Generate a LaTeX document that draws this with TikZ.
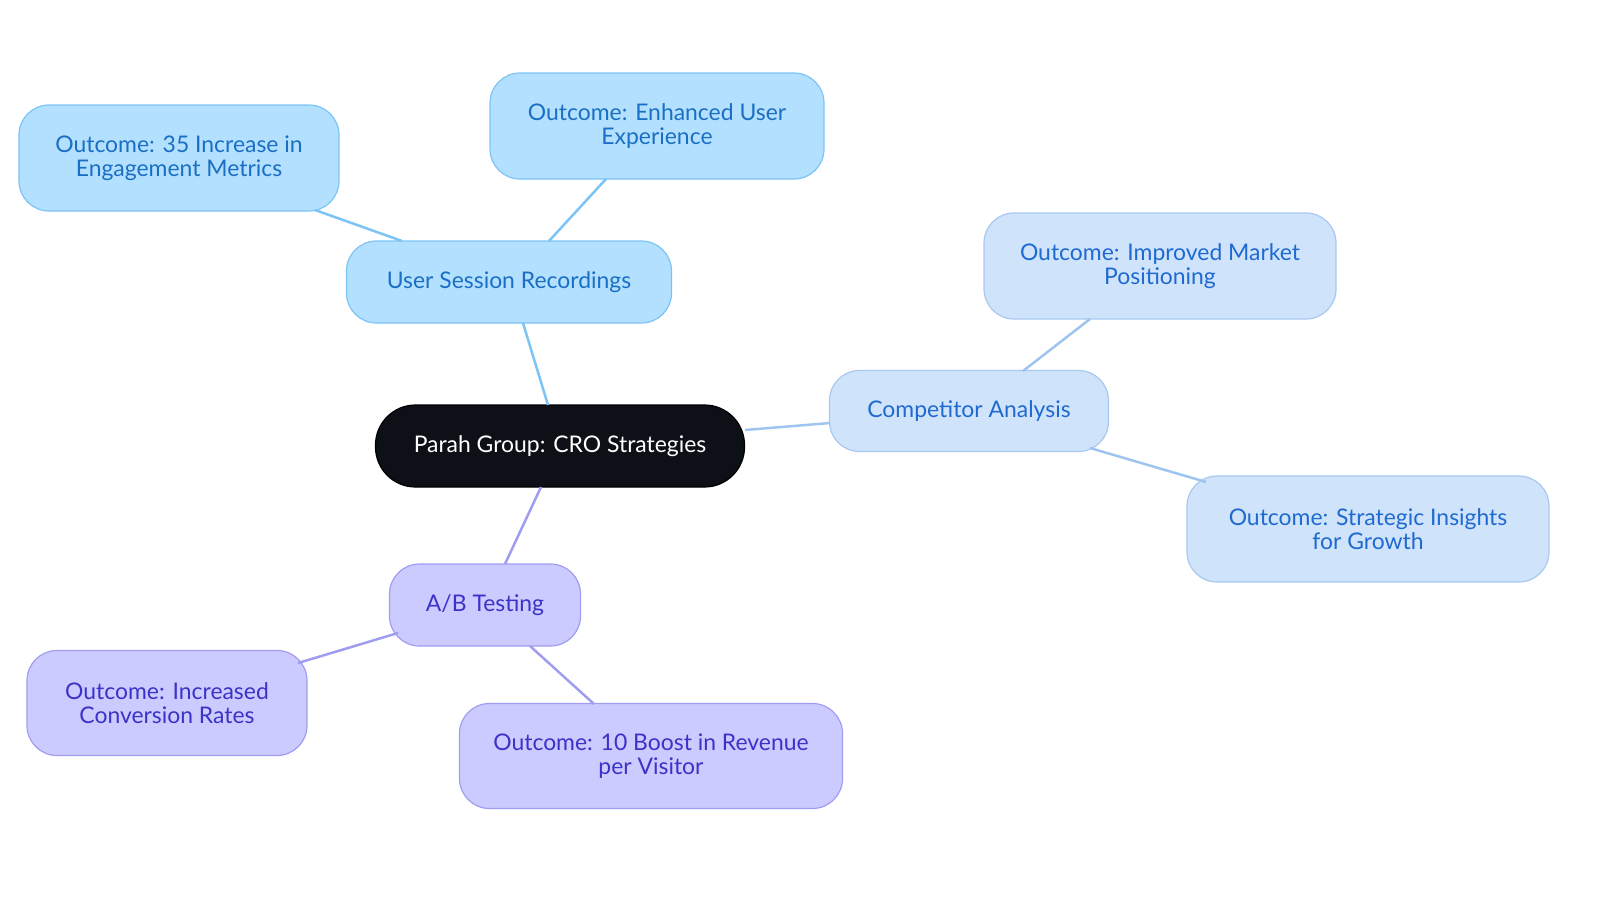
\documentclass[tikz,border=0pt]{standalone}
\usepackage{fontspec}
\setmainfont{Lato}
\begin{document}
\begin{tikzpicture}[x=1bp,y=-1bp,
 base/.style={rounded corners=30bp,align=center,font=\fontsize{23}{24.5}\selectfont,inner sep=0pt,line width=1.2pt},
 blue/.style={base,fill=bfill,draw=bdraw,text=btext},
 lblue/.style={base,fill=lfill,draw=ldraw,text=ltext},
 purp/.style={base,fill=pfill,draw=pdraw,text=ptext},
 eb/.style={draw=bline,line width=2.5pt},
 el/.style={draw=lline,line width=2.5pt},
 ep/.style={draw=pline,line width=2.5pt}]
\definecolor{bfill}{HTML}{B3E0FF}\definecolor{bdraw}{HTML}{7CC4F5}\definecolor{btext}{HTML}{1A6FC4}
\definecolor{lfill}{HTML}{CFE3FB}\definecolor{ldraw}{HTML}{A8C8F0}\definecolor{ltext}{HTML}{1F6AD0}
\definecolor{pfill}{HTML}{CCCBFF}\definecolor{pdraw}{HTML}{A09CF0}\definecolor{ptext}{HTML}{3B32C8}
\definecolor{bline}{HTML}{7CC4F5}\definecolor{lline}{HTML}{9FC4F0}\definecolor{pline}{HTML}{A09CF0}
\definecolor{cfill}{HTML}{0D1117}
\useasboundingbox (0,0) rectangle (1600,903);
\node[base,fill=cfill,draw=black,text=white,minimum width=369bp,minimum height=82bp,rounded corners=40bp] (c) at (560,446) {Parah Group: CRO Strategies};
\node[blue,minimum width=325bp,minimum height=82bp] (u) at (509,282) {User Session Recordings};
\node[blue,minimum width=320bp,minimum height=106bp] (u1) at (179,158) {Outcome: 35 Increase in\\Engagement Metrics};
\node[blue,minimum width=334bp,minimum height=106bp] (u2) at (657,126) {Outcome: Enhanced User\\Experience};
\node[lblue,minimum width=279bp,minimum height=81bp] (a) at (969,411) {Competitor Analysis};
\node[lblue,minimum width=352bp,minimum height=106bp] (a1) at (1160,266) {Outcome: Improved Market\\Positioning};
\node[lblue,minimum width=362bp,minimum height=106bp] (a2) at (1368,529) {Outcome: Strategic Insights\\for Growth};
\node[purp,minimum width=191bp,minimum height=82bp] (p) at (485,605) {A/B Testing};
\node[purp,minimum width=280bp,minimum height=105bp] (p1) at (167,703) {Outcome: Increased\\Conversion Rates};
\node[purp,minimum width=383bp,minimum height=105bp] (p2) at (651,756) {Outcome: 10 Boost in Revenue\\per Visitor};
\draw[eb] (548,405) -- (523,323);
\draw[eb] (402,241) -- (315,210);
\draw[eb] (549,241) -- (606,179);
\draw[el] (745,430) -- (830,423);
\draw[el] (1023,371) -- (1090,319);
\draw[el] (1090,448) -- (1206,482);
\draw[ep] (541,487) -- (505,564);
\draw[ep] (398,633) -- (298,663);
\draw[ep] (530,646) -- (594,704);
\end{tikzpicture}
\end{document}
